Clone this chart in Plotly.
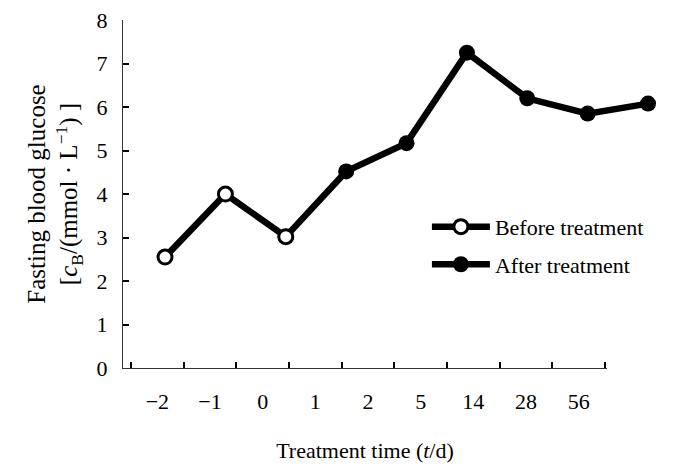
import plotly.graph_objects as go

categories = ["-2", "-1", "0", "1", "2", "5", "14", "28", "56"]
tick_labels = ["\u22122", "\u22121", "0", "1", "2", "5", "14", "28", "56"]
y_ticks = [0, 1, 2, 3, 4, 5, 6, 7, 8]
before_x = ["-2", "-1", "0"]
before_y = [2.55, 4.0, 3.02]
after_x = ["0", "1", "2", "5", "14", "28", "56"]
after_y = [3.02, 4.52, 5.17, 7.25, 6.2, 5.85, 6.08]

FONT = "Liberation Serif"

fig = go.Figure()

# Dummy trace to bring the labelled category axis (x2) into being
fig.add_trace(go.Scatter(
    x=categories, y=[None] * len(categories), xaxis="x2", yaxis="y",
    mode="markers", showlegend=False, hoverinfo="skip",
))

fig.add_trace(go.Scatter(
    x=after_x, y=after_y, name="After treatment", mode="lines+markers",
    line=dict(color="black", width=6.5),
    marker=dict(symbol="circle", size=16, color="black"),
    legendrank=2, legendgroup="b", cliponaxis=False,
))
fig.add_trace(go.Scatter(
    x=before_x, y=before_y, name="Before treatment", mode="lines+markers",
    line=dict(color="black", width=6.5),
    marker=dict(symbol="circle", size=14, color="white",
                line=dict(color="black", width=3)),
    legendrank=1, legendgroup="a", cliponaxis=False,
))

fig.update_layout(
    width=692, height=465,
    margin=dict(l=115, r=10, t=12, b=105),
    paper_bgcolor="white", plot_bgcolor="rgba(0,0,0,0)",
    font=dict(family=FONT, size=22, color="black"),
    showlegend=True,
    legend=dict(x=0.536, y=0.466, xanchor="left", yanchor="top",
                bgcolor="rgba(0,0,0,0)", font=dict(family=FONT, size=22),
                traceorder="grouped", tracegroupgap=6, itemwidth=58),
    xaxis=dict(
        type="category", categoryorder="array", categoryarray=categories,
        range=[-0.696, 8.695], visible=False, showgrid=False, zeroline=False,
        domain=[0, 1], automargin=False,
    ),
    xaxis2=dict(
        type="category", categoryorder="array", categoryarray=categories,
        tickvals=categories, ticktext=tick_labels,
        range=[-0.652, 8.538], domain=[0, 0.8536], anchor="y",
        showline=True, linecolor="#333", linewidth=1.2,
        ticks="inside", tickson="boundaries", ticklen=6, tickwidth=1.5,
        tickcolor="black", showgrid=False, zeroline=False,
        ticklabelstandoff=13, automargin=False, ticklabeloverflow="allow",
        tickfont=dict(family=FONT, size=22),
        title=dict(text="Treatment time (<i>t</i>/d)", standoff=30,
                   font=dict(family=FONT, size=22)),
    ),
    yaxis=dict(
        range=[0, 8.002], tickvals=y_ticks, anchor="x", automargin=False,
        showline=True, linecolor="#333", linewidth=1.2,
        ticks="inside", ticklen=6, tickwidth=1.5, tickcolor="black",
        showgrid=False, zeroline=False, ticklabelstandoff=10,
        ticklabeloverflow="allow",
        tickfont=dict(family=FONT, size=22),
        title=dict(text="Fasting blood glucose<br>[<i>c</i><sub>B</sub>/(mmol \u00b7 L<sup>\u22121</sup>) ]",
                   standoff=11, font=dict(family=FONT, size=25)),
    ),
)

fig.write_html("out.html")
